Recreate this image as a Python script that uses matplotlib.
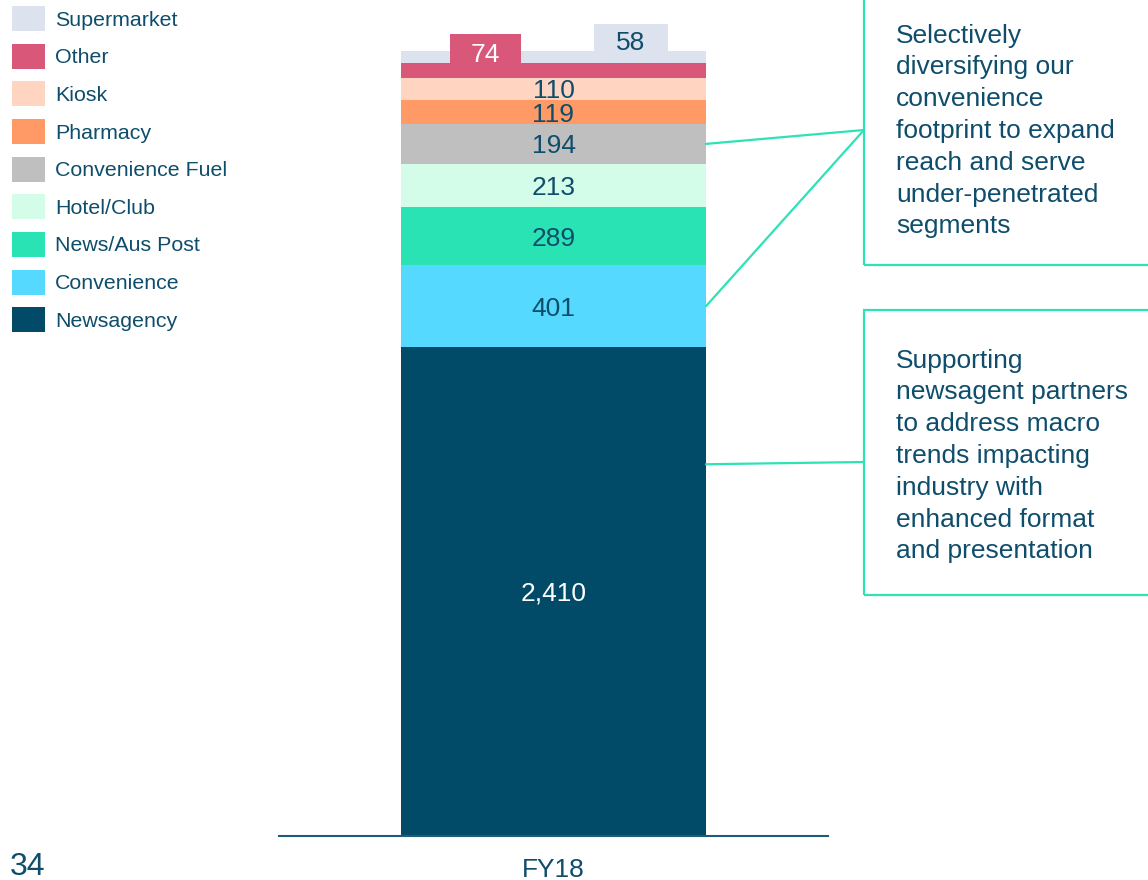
import matplotlib.pyplot as plt
from matplotlib.patches import Patch, Rectangle

plt.rcParams['font.family'] = ['Liberation Sans', 'DejaVu Sans']

# Store network by channel, FY18 (bottom of the stack first)
channels = ['Newsagency', 'Convenience', 'News/Aus Post', 'Hotel/Club',
            'Convenience Fuel', 'Pharmacy', 'Kiosk', 'Other', 'Supermarket']
stores = [2410, 401, 289, 213, 194, 119, 110, 74, 58]
colors = ['#014B69', '#55D9FF', '#2AE3B4', '#D3FCE9', '#BFBFBF',
          '#FF9966', '#FFD5C2', '#D9587A', '#DDE3EE']
label_colors = ['white', '#0E4D6B', '#0E4D6B', '#0E4D6B', '#0E4D6B',
                '#0E4D6B', '#0E4D6B', 'white', '#0E4D6B']
period = 'FY18'
page_no = '34'

note_top = ('Selectively\ndiversifying our\nconvenience\nfootprint to expand\n'
            'reach and serve\nunder-penetrated\nsegments')
note_bottom = ('Supporting\nnewsagent partners\nto address macro\ntrends impacting\n'
               'industry with\nenhanced format\nand presentation')

text_col = '#0E4D6B'
teal = '#2EE2B6'
W, H = 1148, 880

fig = plt.figure(figsize=(W / 100, H / 100), dpi=100)
ax = fig.add_axes([279 / W, 44 / H, 549 / W, 836 / H])

# stacked single bar
bottom = 0
tops = []
for name, val, col, lc in zip(channels, stores, colors, label_colors):
    ax.bar(0, val, width=1.0, bottom=bottom, color=col, label=name)
    if name not in ('Other', 'Supermarket'):
        ax.text(0, bottom + val / 2, f'{val:,}', ha='center',
                va='center_baseline', fontsize=19, color=lc)
    bottom += val
    tops.append(bottom)

# small segments get their labels in tabs sitting on top of the bar
for i, (xc, tab_w, tab_h) in zip([7, 8], [(-0.224, 0.233, 142), (0.254, 0.243, 133)]):
    ax.add_patch(Rectangle((xc - tab_w / 2, tops[i]), tab_w, tab_h,
                           fc=colors[i], ec='none', clip_on=False))
    ax.text(xc, tops[i] + 5, str(stores[i]), ha='center', va='baseline',
            fontsize=19, color=label_colors[i])

ax.set_xlim(-0.9, 0.9)
ax.set_ylim(0, 4119)
ax.set_yticks([])
ax.set_xticks([0])
ax.set_xticklabels([period], fontsize=19, color=text_col)
ax.tick_params(axis='x', length=0, pad=16)
for s in ['top', 'left', 'right']:
    ax.spines[s].set_visible(False)
ax.spines['bottom'].set_color('#1F5C7A')
ax.spines['bottom'].set_linewidth(1.5)

# legend, top of stack first
handles = [Patch(facecolor=c, edgecolor='none', label=n)
           for n, c in zip(channels[::-1], colors[::-1])]
fig.legend(handles=handles, loc='upper left', bbox_to_anchor=(12 / W, 1 - 6 / H),
           frameon=False, fontsize=15.4, labelcolor=text_col,
           handlelength=1.55, handleheight=1.423, labelspacing=0.59,
           handletextpad=0.47, borderpad=0, borderaxespad=0)

# callout boxes
fig.add_artist(Rectangle((864 / W, (H - 265) / H), 400 / W, 400 / H,
                         transform=fig.transFigure, fill=False, ec=teal, lw=1.6,
                         clip_on=False))
fig.add_artist(Rectangle((864 / W, (H - 595) / H), 400 / W, 285 / H,
                         transform=fig.transFigure, fill=False, ec=teal, lw=1.6,
                         clip_on=False))
fig.text(896 / W, 1 - 131 / H, note_top, ha='left', va='center',
         fontsize=19, color=text_col, linespacing=1.412)
fig.text(896 / W, 1 - 456 / H, note_bottom, ha='left', va='center',
         fontsize=19, color=text_col, linespacing=1.412)

# connector lines from bar segments to the boxes
line_kw = dict(arrowstyle='-', color=teal, lw=1.6, shrinkA=0, shrinkB=0)
fuel_mid = tops[3] + stores[4] / 2
conv_mid = tops[0] + stores[1] / 2
news_pt = stores[0] * 0.76
ax.annotate('', xy=(0.5, fuel_mid), xytext=(864, H - 130),
            textcoords='figure pixels', arrowprops=line_kw)
ax.annotate('', xy=(0.5, conv_mid), xytext=(864, H - 130),
            textcoords='figure pixels', arrowprops=line_kw)
ax.annotate('', xy=(0.5, news_pt), xytext=(864, H - 462),
            textcoords='figure pixels', arrowprops=line_kw)

fig.text(10 / W, 1 - 867 / H, page_no, ha='left', va='center',
         fontsize=23, color=text_col)

fig.savefig('out.png', dpi=100)
